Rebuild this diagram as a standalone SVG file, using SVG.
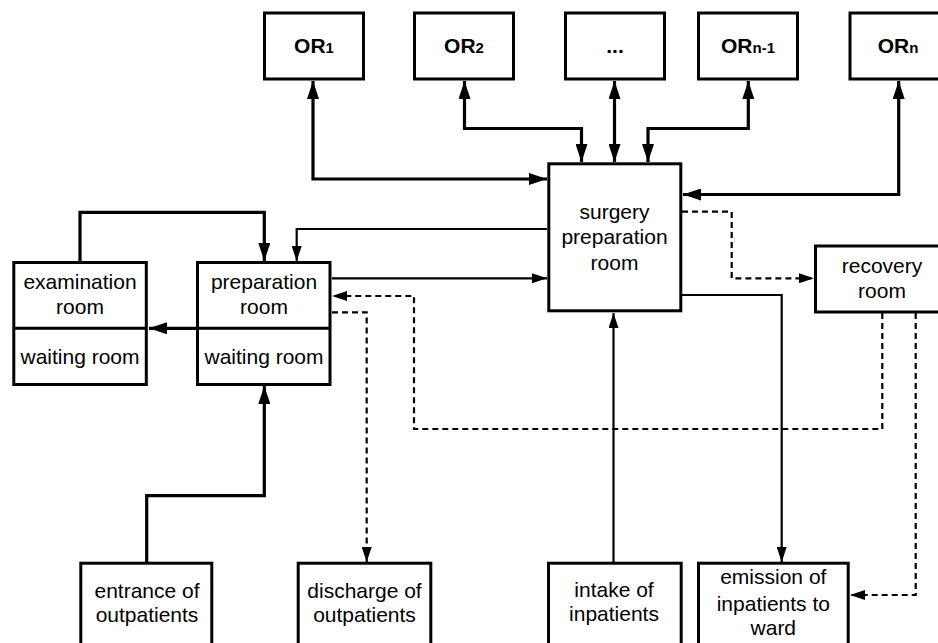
<svg xmlns="http://www.w3.org/2000/svg" width="938" height="643" viewBox="0 0 938 643">
<style>
  .box { fill: #fff; stroke: #000; stroke-width: 3; }
  .div { stroke: #000; stroke-width: 3; fill: none; }
  .t { font-family: "Liberation Sans", Arial, sans-serif; font-size: 21px; text-anchor: middle; fill: #000; }
  .b { font-family: "Liberation Sans", Arial, sans-serif; font-size: 21px; font-weight: bold; text-anchor: middle; fill: #000; }
  .sub { font-size: 15px; }
  .thick { fill: none; stroke: #000; stroke-width: 3.2; }
  .thin { fill: none; stroke: #000; stroke-width: 2.2; }
  .dash { fill: none; stroke: #000; stroke-width: 2.2; stroke-dasharray: 6 4; }
</style>
<defs>
  <marker id="ah" markerUnits="userSpaceOnUse" markerWidth="18" markerHeight="12" refX="18" refY="6" orient="auto-start-reverse">
    <path d="M0,0 L18,6 L0,12 Z" fill="#000"/>
  </marker>
  <marker id="at" markerUnits="userSpaceOnUse" markerWidth="15" markerHeight="10" refX="15" refY="5" orient="auto-start-reverse">
    <path d="M0,0 L15,5 L0,10 Z" fill="#000"/>
  </marker>
</defs>
<rect width="938" height="643" fill="#fff"/>

<g id="connectors">
  <path class="thick" d="M313,81 V179 H547" marker-start="url(#ah)" marker-end="url(#ah)"/>
  <path class="thick" d="M464.5,81 V128.5 H581.5 V162" marker-start="url(#ah)" marker-end="url(#ah)"/>
  <path class="thick" d="M614.5,81 V162" marker-start="url(#ah)" marker-end="url(#ah)"/>
  <path class="thick" d="M748.3,81 V128.5 H648 V162" marker-start="url(#ah)" marker-end="url(#ah)"/>
  <path class="thick" d="M898.7,81 V194.5 H683" marker-start="url(#ah)" marker-end="url(#ah)"/>
  <path class="thick" d="M80,261 V212.3 H264.3 V261" marker-end="url(#ah)"/>
  <path class="thick" d="M196,328.3 H149" marker-end="url(#ah)"/>
  <path class="thick" d="M146.7,562 V495.7 H264.3 V386" marker-end="url(#ah)"/>
  <path class="thin" d="M547,229 H296.7 V261" marker-end="url(#at)"/>
  <path class="thin" d="M332,278.3 H547" marker-end="url(#at)"/>
  <path class="thin" d="M613.5,562 V313" marker-end="url(#at)"/>
  <path class="thin" d="M682,295 H781.7 V562" marker-end="url(#at)"/>
  <path class="dash" d="M682,211.7 H731.7 V278.3 H814" marker-end="url(#at)"/>
  <path class="dash" d="M882.3,313 V429 H414 V296 H332" marker-end="url(#at)"/>
  <path class="dash" d="M332,312.3 H366.7 V562" marker-end="url(#at)"/>
  <path class="dash" d="M915.7,313 V595 H850" marker-end="url(#at)"/>
</g>

<g id="or1">
  <rect class="box" x="264.5" y="13" width="99" height="66"/>
  <text class="b" x="314" y="52.5">OR<tspan class="sub">1</tspan></text>
</g>
<g id="or2">
  <rect class="box" x="414.5" y="13" width="99" height="66"/>
  <text class="b" x="464" y="52.5">OR<tspan class="sub">2</tspan></text>
</g>
<g id="ordots">
  <rect class="box" x="565.5" y="13" width="99" height="66"/>
  <text class="b" x="615" y="52.5">...</text>
</g>
<g id="orn1">
  <rect class="box" x="698.5" y="13" width="99" height="66"/>
  <text class="b" x="748" y="52.5">OR<tspan class="sub">n-1</tspan></text>
</g>
<g id="orn">
  <rect class="box" x="850" y="13" width="100" height="66"/>
  <text class="b" x="898" y="52.5">OR<tspan class="sub">n</tspan></text>
</g>

<g id="surgery">
  <rect class="box" x="548.8" y="163.8" width="132" height="147"/>
  <text class="t" x="614.5" y="218.5">surgery</text>
  <text class="t" x="614.5" y="244">preparation</text>
  <text class="t" x="614.5" y="269.5">room</text>
</g>

<g id="recovery">
  <rect class="box" x="815.5" y="246" width="140" height="66"/>
  <text class="t" x="882" y="273.3">recovery</text>
  <text class="t" x="882" y="297.7">room</text>
</g>

<g id="examination">
  <rect class="box" x="13.8" y="262.5" width="132.5" height="122"/>
  <line class="div" x1="13.8" y1="328.3" x2="146.3" y2="328.3"/>
  <text class="t" x="80" y="289.3">examination</text>
  <text class="t" x="80" y="314.3">room</text>
  <text class="t" x="80" y="364">waiting room</text>
</g>

<g id="preparation">
  <rect class="box" x="197.5" y="262.5" width="132.5" height="122"/>
  <line class="div" x1="197.5" y1="328.3" x2="330" y2="328.3"/>
  <text class="t" x="264" y="289.3">preparation</text>
  <text class="t" x="264" y="314.3">room</text>
  <text class="t" x="264" y="364">waiting room</text>
</g>

<g id="entrance">
  <rect class="box" x="80.8" y="563.2" width="131" height="100"/>
  <text class="t" x="147" y="598.3">entrance of</text>
  <text class="t" x="147" y="621.7">outpatients</text>
</g>

<g id="discharge">
  <rect class="box" x="298.2" y="563.2" width="132.6" height="100"/>
  <text class="t" x="364.5" y="598.3">discharge of</text>
  <text class="t" x="364.5" y="621.7">outpatients</text>
</g>

<g id="intake">
  <rect class="box" x="548.5" y="563.2" width="132.7" height="100"/>
  <text class="t" x="614" y="596.7">intake of</text>
  <text class="t" x="614" y="620.7">inpatients</text>
</g>

<g id="emission">
  <rect class="box" x="698.5" y="563.2" width="149.7" height="100"/>
  <text class="t" x="773.3" y="584">emission of</text>
  <text class="t" x="773.3" y="610.7">inpatients to</text>
  <text class="t" x="773.3" y="635">ward</text>
</g>
</svg>
